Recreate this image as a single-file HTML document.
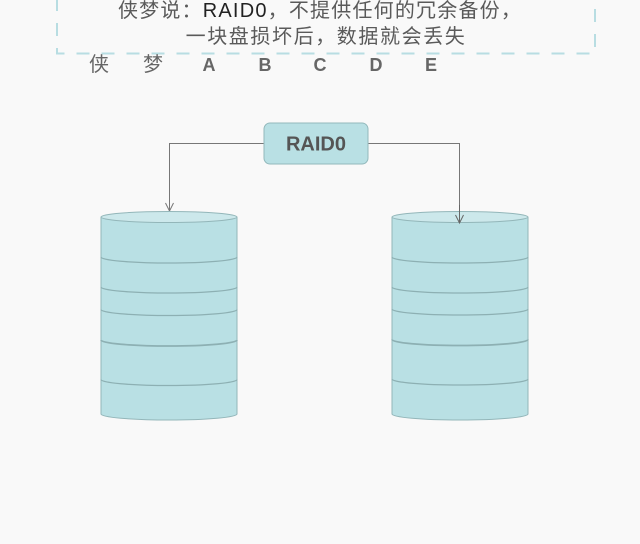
<!DOCTYPE html>
<html><head><meta charset="utf-8">
<style>
html,body{margin:0;padding:0;background:#f9f9f9;}
body{width:640px;height:544px;overflow:hidden;position:relative;}
svg{position:absolute;left:0;top:0;}
</style></head>
<body>
<svg width="640" height="544" viewBox="0 0 640 544" xmlns="http://www.w3.org/2000/svg">
  <rect width="640" height="544" fill="#f9f9f9"/>
  <!-- dashed box -->
  <path d="M57,-2 V53.5 H595 V-2" fill="none" stroke="#b8dde2" stroke-width="2" stroke-dasharray="13,12"/>
  <g font-family="'Liberation Sans','Noto Sans CJK SC',sans-serif" font-size="20" fill="#5a5a5a" text-anchor="middle">
    <text x="320" y="17" letter-spacing="1.2">侠梦说：<tspan fill="#222">RAID0</tspan>，不提供任何的冗余备份，</text>
    <text x="326" y="43" letter-spacing="1.6">一块盘损坏后，数据就会丢失</text>
  </g>
  <g font-family="'Liberation Sans','Noto Sans CJK SC',sans-serif" fill="#666" text-anchor="middle">
    <text x="99" y="71" font-size="20">侠</text>
    <text x="153" y="71" font-size="20">梦</text>
    <g font-size="18" font-weight="bold">
      <text x="209" y="71">A</text>
      <text x="265" y="71">B</text>
      <text x="320" y="71">C</text>
      <text x="376" y="71">D</text>
      <text x="431" y="71">E</text>
    </g>
  </g>

  <!-- connectors -->
  <g fill="none" stroke="#777" stroke-width="1">
    <path d="M264,143.5 H169.5 V210"/>
    <path d="M165.5,203 L169.5,211 L173.5,203"/>
    <path d="M368,143.5 H459.5 V222"/>
    <path d="M455.5,215 L459.5,223 L463.5,215"/>
  </g>

  <!-- RAID0 box -->
  <rect x="264" y="123" width="104" height="41" rx="6" ry="6" fill="#b9e0e4" stroke="#93b9bc" stroke-width="1"/>
  <text x="316" y="150.5" font-family="'Liberation Sans',sans-serif" font-size="20" font-weight="bold" fill="#555" text-anchor="middle">RAID0</text>

  <!-- cylinders -->
  <g id="cylA">
    <path d="M101,217 V414 A68,6 0 0 0 237,414 V217" fill="#b9e0e4" stroke="#93b6b9" stroke-width="1"/>
    <ellipse cx="169" cy="217" rx="68" ry="5.5" fill="#cce8eb" stroke="#93b6b9" stroke-width="1"/>
    <g fill="none" stroke="#8db0b3" stroke-width="1.3">
      <path d="M101,257 A68,6 0 0 0 237,257"/>
      <path d="M101,287 A68,6 0 0 0 237,287"/>
      <path d="M101,309.5 A68,6 0 0 0 237,309.5"/>
      <path d="M101,340 A68,6 0 0 0 237,340" stroke-width="1.7"/>
      <path d="M101,379.5 A68,6 0 0 0 237,379.5"/>
    </g>
  </g>
  <g>
    <path d="M392,217 V414 A68,6 0 0 0 528,414 V217" fill="#b9e0e4" stroke="#93b6b9" stroke-width="1"/>
    <ellipse cx="460" cy="217" rx="68" ry="5.5" fill="#cce8eb" stroke="#93b6b9" stroke-width="1"/>
    <g fill="none" stroke="#8db0b3" stroke-width="1.3">
      <path d="M392,257 A68,6 0 0 0 528,257"/>
      <path d="M392,287 A68,6 0 0 0 528,287"/>
      <path d="M392,309 A68,6 0 0 0 528,309"/>
      <path d="M392,339.5 A68,6 0 0 0 528,339.5" stroke-width="1.7"/>
      <path d="M392,379 A68,6 0 0 0 528,379"/>
    </g>
  </g>
  <!-- arrow over right cylinder top -->
  <g fill="none" stroke="#666" stroke-width="1">
    <path d="M459.5,205 V222"/>
    <path d="M455.5,215 L459.5,223 L463.5,215"/>
  </g>
</svg>
</body></html>
